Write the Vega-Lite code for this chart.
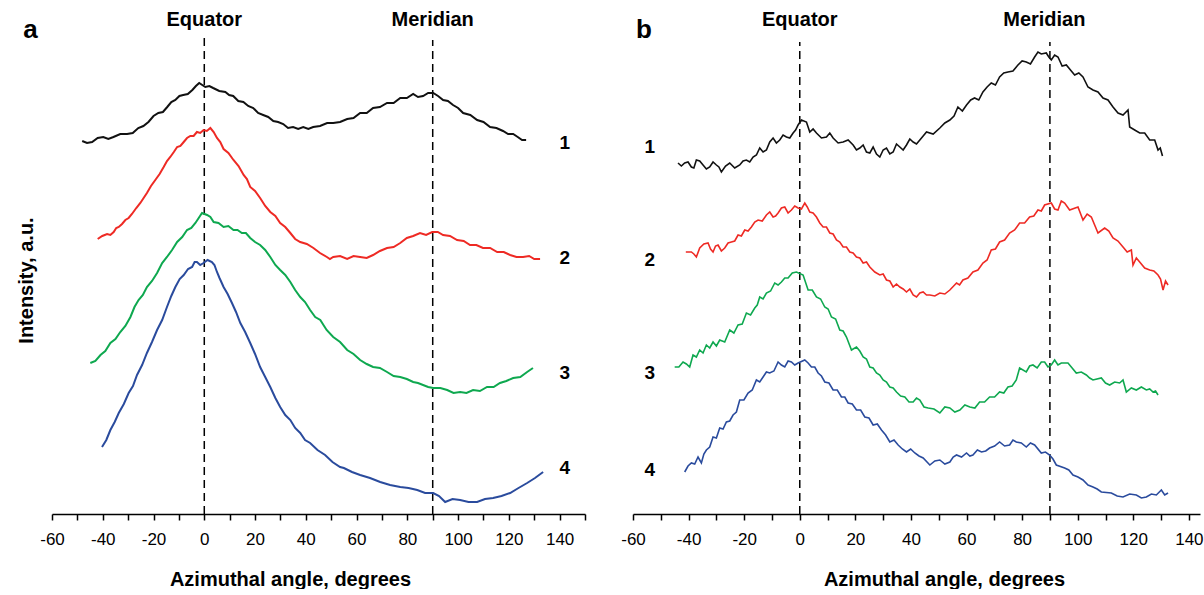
{
  "$schema": "https://vega.github.io/schema/vega-lite/v6.json",
  "padding": {"left": 16, "top": 5, "right": 0, "bottom": 0},
  "background": "white",
  "spacing": 48,
  "bounds": "flush",
  "config": {
    "view": {"stroke": null},
    "font": "Liberation Sans",
    "axisX": {"domainColor": "#000", "domainWidth": 1.6, "tickColor": "#000", "tickWidth": 1.5, "tickSize": 6, "labelFontSize": 17, "labelColor": "#000", "labelPadding": 11, "titleFontSize": 20, "titleFontWeight": "bold", "titleColor": "#000", "titlePadding": 22, "grid": false, "labelFlush": false, "labelOverlap": false},
    "text": {"font": "Liberation Sans", "fontWeight": "bold", "color": "#000"}
  },
  "datasets": {
    "a1": [{"angle":-48.1,"int":373},{"angle":-46.2,"int":371},{"angle":-44.2,"int":372},{"angle":-42,"int":376},{"angle":-39.8,"int":377},{"angle":-37.8,"int":375},{"angle":-35.8,"int":377},{"angle":-33.1,"int":380},{"angle":-30.4,"int":380},{"angle":-28.2,"int":381},{"angle":-26,"int":386},{"angle":-24,"int":388},{"angle":-22,"int":392},{"angle":-20,"int":398},{"angle":-18.1,"int":401},{"angle":-16.3,"int":402},{"angle":-14.6,"int":407},{"angle":-13,"int":412},{"angle":-11.4,"int":414},{"angle":-9.8,"int":418},{"angle":-8.3,"int":419},{"angle":-6.5,"int":420},{"angle":-4.7,"int":424},{"angle":-3.3,"int":428},{"angle":-2,"int":431},{"angle":-0.8,"int":429},{"angle":0.4,"int":427},{"angle":2,"int":428},{"angle":3.5,"int":426},{"angle":5.9,"int":423},{"angle":8.3,"int":422},{"angle":9.8,"int":419},{"angle":11.4,"int":418},{"angle":13.4,"int":413},{"angle":15.4,"int":412},{"angle":17.3,"int":408},{"angle":19.3,"int":406},{"angle":21.2,"int":401},{"angle":23.2,"int":399},{"angle":25.2,"int":397},{"angle":27.2,"int":393},{"angle":29.1,"int":392},{"angle":31.1,"int":390},{"angle":33,"int":386},{"angle":35,"int":387},{"angle":37,"int":385},{"angle":39,"int":387},{"angle":41,"int":385},{"angle":42.9,"int":387},{"angle":45.6,"int":388},{"angle":48.4,"int":391},{"angle":50.8,"int":391},{"angle":53.5,"int":392},{"angle":56.3,"int":395},{"angle":58.8,"int":396},{"angle":61.4,"int":401},{"angle":64,"int":401},{"angle":66.5,"int":406},{"angle":69.2,"int":407},{"angle":72,"int":411},{"angle":74.6,"int":411},{"angle":77.2,"int":416},{"angle":79.8,"int":416},{"angle":82.3,"int":420},{"angle":84.2,"int":417},{"angle":86.2,"int":418},{"angle":88.2,"int":421},{"angle":90.2,"int":421},{"angle":92.1,"int":418},{"angle":94.1,"int":414},{"angle":96,"int":413},{"angle":98,"int":409},{"angle":100,"int":406},{"angle":102,"int":401},{"angle":104.8,"int":399},{"angle":107.5,"int":394},{"angle":110,"int":392},{"angle":112.6,"int":387},{"angle":115.1,"int":386},{"angle":117.7,"int":383},{"angle":119.7,"int":380},{"angle":121.7,"int":380},{"angle":123.5,"int":377},{"angle":125.2,"int":374},{"angle":126.8,"int":374}],
    "a2": [{"angle":-42,"int":275},{"angle":-40.2,"int":278},{"angle":-38.3,"int":280},{"angle":-37,"int":279},{"angle":-35.7,"int":282},{"angle":-34.7,"int":286},{"angle":-33.7,"int":287},{"angle":-32.4,"int":290},{"angle":-31.1,"int":294},{"angle":-29.8,"int":296},{"angle":-28.5,"int":300},{"angle":-26.8,"int":306},{"angle":-25.2,"int":311},{"angle":-23.9,"int":316},{"angle":-22.6,"int":321},{"angle":-21,"int":328},{"angle":-19.3,"int":334},{"angle":-17.6,"int":340},{"angle":-16,"int":347},{"angle":-14.7,"int":353},{"angle":-13.4,"int":357},{"angle":-12,"int":362},{"angle":-10.7,"int":367},{"angle":-9.4,"int":368},{"angle":-8.1,"int":372},{"angle":-6.8,"int":376},{"angle":-5.5,"int":378},{"angle":-4.2,"int":378},{"angle":-2.9,"int":382},{"angle":-1.6,"int":381},{"angle":-0.3,"int":384},{"angle":1,"int":383},{"angle":2.4,"int":386},{"angle":3.7,"int":382},{"angle":5,"int":376},{"angle":6.3,"int":372},{"angle":7.6,"int":365},{"angle":9.5,"int":361},{"angle":11.5,"int":354},{"angle":13.5,"int":348},{"angle":15.5,"int":339},{"angle":16.8,"int":335},{"angle":18.1,"int":327},{"angle":20,"int":323},{"angle":22,"int":316},{"angle":24,"int":308},{"angle":26,"int":302},{"angle":28,"int":298},{"angle":29.9,"int":291},{"angle":31.9,"int":287},{"angle":33.9,"int":281},{"angle":35.8,"int":275},{"angle":37.8,"int":272},{"angle":40.4,"int":270},{"angle":43,"int":266},{"angle":45.6,"int":261},{"angle":48.3,"int":257},{"angle":49.5,"int":255},{"angle":50.8,"int":257},{"angle":53.5,"int":258},{"angle":56.3,"int":255},{"angle":58.8,"int":258},{"angle":61.4,"int":257},{"angle":64,"int":256},{"angle":66.5,"int":259},{"angle":69.2,"int":263},{"angle":72,"int":266},{"angle":74.6,"int":267},{"angle":77.2,"int":271},{"angle":79.8,"int":276},{"angle":82.3,"int":278},{"angle":85,"int":281},{"angle":87.4,"int":279},{"angle":89.8,"int":282},{"angle":92,"int":282},{"angle":94.1,"int":279},{"angle":96.8,"int":278},{"angle":99.6,"int":274},{"angle":102.2,"int":273},{"angle":104.7,"int":269},{"angle":107.2,"int":269},{"angle":109.8,"int":266},{"angle":112.6,"int":266},{"angle":115.4,"int":262},{"angle":118,"int":262},{"angle":120.5,"int":259},{"angle":123,"int":257},{"angle":125.6,"int":257},{"angle":128,"int":258},{"angle":130,"int":255},{"angle":132.3,"int":255}],
    "a3": [{"angle":-44.9,"int":151},{"angle":-42.9,"int":153},{"angle":-40.9,"int":159},{"angle":-39,"int":163},{"angle":-37,"int":171},{"angle":-35,"int":175},{"angle":-33.1,"int":182},{"angle":-31.1,"int":188},{"angle":-29.1,"int":197},{"angle":-27.5,"int":207},{"angle":-25.9,"int":214},{"angle":-24.2,"int":219},{"angle":-22.6,"int":227},{"angle":-20.6,"int":233},{"angle":-18.6,"int":241},{"angle":-16.6,"int":251},{"angle":-14.7,"int":257},{"angle":-12.7,"int":264},{"angle":-10.7,"int":272},{"angle":-8.7,"int":277},{"angle":-6.8,"int":284},{"angle":-5.1,"int":286},{"angle":-3.5,"int":291},{"angle":-2.2,"int":296},{"angle":-0.9,"int":301},{"angle":1.1,"int":299},{"angle":2.4,"int":297},{"angle":3.7,"int":292},{"angle":5.6,"int":291},{"angle":7.6,"int":287},{"angle":9.5,"int":288},{"angle":11.5,"int":284},{"angle":13.1,"int":284},{"angle":14.8,"int":281},{"angle":16.4,"int":281},{"angle":18.1,"int":276},{"angle":20,"int":272},{"angle":22,"int":269},{"angle":24,"int":264},{"angle":26,"int":257},{"angle":28,"int":249},{"angle":29.9,"int":244},{"angle":31.9,"int":239},{"angle":33.9,"int":232},{"angle":35.8,"int":224},{"angle":37.8,"int":217},{"angle":39.7,"int":212},{"angle":41.7,"int":204},{"angle":43.7,"int":197},{"angle":45.7,"int":194},{"angle":48.2,"int":184},{"angle":50.8,"int":177},{"angle":53.5,"int":172},{"angle":56.3,"int":164},{"angle":58.8,"int":160},{"angle":61.4,"int":154},{"angle":64,"int":150},{"angle":66.5,"int":147},{"angle":69.2,"int":146},{"angle":72,"int":142},{"angle":74.6,"int":138},{"angle":77.2,"int":137},{"angle":79.8,"int":135},{"angle":82.3,"int":132},{"angle":84.2,"int":131},{"angle":86.2,"int":129},{"angle":88.2,"int":127},{"angle":90.2,"int":126},{"angle":93,"int":126},{"angle":95.7,"int":124},{"angle":98.2,"int":121},{"angle":100.8,"int":122},{"angle":103.3,"int":121},{"angle":105.9,"int":124},{"angle":108.6,"int":123},{"angle":111.4,"int":127},{"angle":114,"int":127},{"angle":116.5,"int":131},{"angle":119,"int":133},{"angle":121.7,"int":136},{"angle":124.5,"int":137},{"angle":127.2,"int":142},{"angle":129.5,"int":146}],
    "a4": [{"angle":-40.3,"int":67},{"angle":-38.6,"int":74},{"angle":-37,"int":84},{"angle":-35.3,"int":92},{"angle":-33.7,"int":101},{"angle":-31.7,"int":110},{"angle":-29.8,"int":121},{"angle":-28.1,"int":128},{"angle":-26.5,"int":139},{"angle":-24.5,"int":149},{"angle":-22.6,"int":161},{"angle":-20.6,"int":172},{"angle":-18.6,"int":184},{"angle":-16.6,"int":194},{"angle":-14.7,"int":207},{"angle":-13,"int":218},{"angle":-11.4,"int":227},{"angle":-9.7,"int":235},{"angle":-8.1,"int":239},{"angle":-6.4,"int":245},{"angle":-4.8,"int":247},{"angle":-3.8,"int":252},{"angle":-2.9,"int":252},{"angle":-1.6,"int":249},{"angle":-0.3,"int":251},{"angle":1.3,"int":254},{"angle":3,"int":252},{"angle":4,"int":249},{"angle":5,"int":242},{"angle":6,"int":236},{"angle":7.6,"int":227},{"angle":9.2,"int":220},{"angle":10.9,"int":211},{"angle":12.5,"int":202},{"angle":14.2,"int":191},{"angle":16.1,"int":182},{"angle":18.1,"int":171},{"angle":20,"int":160},{"angle":22,"int":147},{"angle":24,"int":137},{"angle":26,"int":127},{"angle":28,"int":116},{"angle":29.9,"int":107},{"angle":31.9,"int":99},{"angle":33.9,"int":94},{"angle":35.8,"int":86},{"angle":37.8,"int":81},{"angle":39.7,"int":74},{"angle":41.7,"int":71},{"angle":44.6,"int":64},{"angle":47.6,"int":59},{"angle":50.5,"int":52},{"angle":53.5,"int":47},{"angle":55,"int":46},{"angle":58.2,"int":42},{"angle":61.4,"int":39},{"angle":65.3,"int":36},{"angle":69.3,"int":32},{"angle":73.2,"int":29},{"angle":77.2,"int":27},{"angle":80.5,"int":26},{"angle":83.9,"int":24},{"angle":87,"int":21},{"angle":90.2,"int":21},{"angle":92.5,"int":18},{"angle":94.9,"int":12},{"angle":97.8,"int":15},{"angle":100.8,"int":14},{"angle":104.1,"int":12},{"angle":107.5,"int":12},{"angle":110.6,"int":15},{"angle":113.8,"int":16},{"angle":117.1,"int":18},{"angle":120.5,"int":21},{"angle":123.8,"int":26},{"angle":127.2,"int":31},{"angle":130.3,"int":36},{"angle":133.5,"int":42}],
    "b1": [{"angle":-43.8,"int":351},{"angle":-42.6,"int":348},{"angle":-41.4,"int":351},{"angle":-40.2,"int":352},{"angle":-39,"int":347},{"angle":-38.1,"int":346},{"angle":-37.2,"int":354},{"angle":-36,"int":353},{"angle":-34.8,"int":349},{"angle":-33.6,"int":345},{"angle":-32.4,"int":347},{"angle":-31.2,"int":352},{"angle":-30,"int":349},{"angle":-29.1,"int":347},{"angle":-28.2,"int":342},{"angle":-26.7,"int":348},{"angle":-25.2,"int":351},{"angle":-23.4,"int":346},{"angle":-21.6,"int":349},{"angle":-20.4,"int":353},{"angle":-19.2,"int":354},{"angle":-18,"int":352},{"angle":-16.8,"int":357},{"angle":-15.6,"int":359},{"angle":-14.4,"int":366},{"angle":-13.2,"int":362},{"angle":-12,"int":364},{"angle":-10.8,"int":372},{"angle":-9.6,"int":376},{"angle":-8.4,"int":371},{"angle":-7.2,"int":374},{"angle":-6,"int":379},{"angle":-4.8,"int":377},{"angle":-3.6,"int":376},{"angle":-2.4,"int":381},{"angle":-1.5,"int":384},{"angle":-0.6,"int":389},{"angle":0.6,"int":394},{"angle":2.4,"int":392},{"angle":3,"int":387},{"angle":3.6,"int":382},{"angle":4.8,"int":385},{"angle":6,"int":381},{"angle":7.8,"int":376},{"angle":9.6,"int":377},{"angle":10.8,"int":381},{"angle":12,"int":376},{"angle":13.8,"int":371},{"angle":15.6,"int":372},{"angle":17.4,"int":374},{"angle":19.2,"int":369},{"angle":20.4,"int":364},{"angle":21.6,"int":366},{"angle":22.8,"int":369},{"angle":24,"int":362},{"angle":25.2,"int":361},{"angle":26.4,"int":367},{"angle":27.6,"int":360},{"angle":28.8,"int":357},{"angle":30,"int":364},{"angle":31.2,"int":366},{"angle":32.4,"int":360},{"angle":33.6,"int":362},{"angle":34.8,"int":370},{"angle":36,"int":367},{"angle":37.2,"int":364},{"angle":38.4,"int":369},{"angle":39.6,"int":375},{"angle":40.8,"int":372},{"angle":42,"int":370},{"angle":43.2,"int":374},{"angle":44.4,"int":378},{"angle":45.6,"int":382},{"angle":48,"int":380},{"angle":50.4,"int":386},{"angle":52.2,"int":391},{"angle":54,"int":394},{"angle":55.5,"int":398},{"angle":56.9,"int":407},{"angle":58.5,"int":403},{"angle":60,"int":409},{"angle":61.5,"int":414},{"angle":62.9,"int":416},{"angle":64.4,"int":414},{"angle":65.9,"int":422},{"angle":67.4,"int":427},{"angle":68.9,"int":431},{"angle":70.4,"int":429},{"angle":71.9,"int":437},{"angle":73.4,"int":441},{"angle":74.9,"int":442},{"angle":76.7,"int":443},{"angle":78.5,"int":449},{"angle":80,"int":453},{"angle":81.5,"int":452},{"angle":83,"int":450},{"angle":84.5,"int":457},{"angle":85.7,"int":462},{"angle":86.9,"int":460},{"angle":88.7,"int":461},{"angle":89.6,"int":457},{"angle":90.5,"int":454},{"angle":91.7,"int":459},{"angle":92.9,"int":457},{"angle":94.4,"int":448},{"angle":95.9,"int":449},{"angle":97.4,"int":444},{"angle":98.9,"int":439},{"angle":100.4,"int":441},{"angle":101.9,"int":437},{"angle":103.7,"int":427},{"angle":105.5,"int":424},{"angle":107.3,"int":422},{"angle":109.1,"int":416},{"angle":110.9,"int":414},{"angle":112.7,"int":407},{"angle":114.5,"int":401},{"angle":116.3,"int":399},{"angle":118.1,"int":404},{"angle":118.7,"int":387},{"angle":120.5,"int":384},{"angle":122.3,"int":381},{"angle":124.1,"int":381},{"angle":125.9,"int":374},{"angle":127.7,"int":374},{"angle":128.9,"int":364},{"angle":129.7,"int":366},{"angle":130.5,"int":358}],
    "b2": [{"angle":-41,"int":262},{"angle":-39,"int":262},{"angle":-38.1,"int":260},{"angle":-37.2,"int":257},{"angle":-36,"int":266},{"angle":-34.5,"int":270},{"angle":-33,"int":271},{"angle":-32.1,"int":265},{"angle":-31.2,"int":262},{"angle":-30.3,"int":268},{"angle":-29.4,"int":269},{"angle":-28.2,"int":263},{"angle":-27,"int":266},{"angle":-25.8,"int":271},{"angle":-24.6,"int":272},{"angle":-23.4,"int":273},{"angle":-22.2,"int":279},{"angle":-21,"int":278},{"angle":-19.8,"int":284},{"angle":-18.6,"int":283},{"angle":-17.4,"int":287},{"angle":-16.2,"int":292},{"angle":-15,"int":294},{"angle":-13.5,"int":293},{"angle":-12,"int":299},{"angle":-10.8,"int":302},{"angle":-9.6,"int":297},{"angle":-8.7,"int":298},{"angle":-7.8,"int":301},{"angle":-6.6,"int":306},{"angle":-5.4,"int":307},{"angle":-4.2,"int":301},{"angle":-3,"int":304},{"angle":-1.8,"int":308},{"angle":-0.6,"int":306},{"angle":0.6,"int":305},{"angle":1.8,"int":311},{"angle":2.7,"int":307},{"angle":3.6,"int":302},{"angle":4.8,"int":301},{"angle":6,"int":297},{"angle":7.2,"int":291},{"angle":8.4,"int":287},{"angle":9.6,"int":287},{"angle":10.8,"int":281},{"angle":12,"int":280},{"angle":13.2,"int":274},{"angle":14.4,"int":272},{"angle":15.6,"int":267},{"angle":16.8,"int":267},{"angle":18,"int":262},{"angle":19.2,"int":261},{"angle":20.4,"int":257},{"angle":21.6,"int":256},{"angle":22.8,"int":251},{"angle":24,"int":252},{"angle":25.2,"int":247},{"angle":27,"int":242},{"angle":28.8,"int":239},{"angle":30,"int":240},{"angle":31.2,"int":234},{"angle":32.4,"int":233},{"angle":33.6,"int":227},{"angle":34.8,"int":230},{"angle":36,"int":227},{"angle":37.2,"int":225},{"angle":38.4,"int":222},{"angle":39.6,"int":225},{"angle":40.8,"int":219},{"angle":42,"int":217},{"angle":43.2,"int":221},{"angle":44.4,"int":222},{"angle":45.6,"int":219},{"angle":46.8,"int":219},{"angle":48.6,"int":218},{"angle":50.4,"int":221},{"angle":52.2,"int":220},{"angle":54,"int":224},{"angle":56.4,"int":231},{"angle":57.5,"int":229},{"angle":58.7,"int":234},{"angle":60.5,"int":236},{"angle":62.3,"int":242},{"angle":64.1,"int":244},{"angle":65.9,"int":251},{"angle":67.4,"int":254},{"angle":68.9,"int":264},{"angle":70.4,"int":265},{"angle":71.9,"int":272},{"angle":73.7,"int":274},{"angle":75.5,"int":281},{"angle":77.3,"int":284},{"angle":79.1,"int":291},{"angle":80.9,"int":291},{"angle":82.7,"int":297},{"angle":84.2,"int":298},{"angle":85.7,"int":304},{"angle":86.9,"int":303},{"angle":88.1,"int":309},{"angle":90.5,"int":311},{"angle":91.7,"int":305},{"angle":92.9,"int":304},{"angle":94.1,"int":313},{"angle":95.3,"int":311},{"angle":97.1,"int":304},{"angle":100.1,"int":307},{"angle":101.9,"int":294},{"angle":103.4,"int":300},{"angle":104.9,"int":297},{"angle":107.3,"int":281},{"angle":109.7,"int":286},{"angle":111.2,"int":283},{"angle":112.7,"int":276},{"angle":114.5,"int":273},{"angle":116.3,"int":267},{"angle":117.8,"int":262},{"angle":119.3,"int":264},{"angle":119.9,"int":249},{"angle":121.1,"int":256},{"angle":122.3,"int":252},{"angle":124.1,"int":246},{"angle":125.9,"int":244},{"angle":127.4,"int":243},{"angle":128.9,"int":239},{"angle":129.8,"int":235},{"angle":130.7,"int":224},{"angle":131.6,"int":233},{"angle":132.5,"int":229}],
    "b3": [{"angle":-45,"int":147},{"angle":-43.5,"int":147},{"angle":-42,"int":152},{"angle":-40.8,"int":150},{"angle":-39.6,"int":147},{"angle":-38.4,"int":159},{"angle":-37.2,"int":157},{"angle":-36,"int":164},{"angle":-34.8,"int":161},{"angle":-33.6,"int":169},{"angle":-32.4,"int":166},{"angle":-31.2,"int":172},{"angle":-30,"int":168},{"angle":-28.8,"int":174},{"angle":-27,"int":172},{"angle":-25.2,"int":184},{"angle":-23.7,"int":181},{"angle":-22.2,"int":189},{"angle":-20.7,"int":190},{"angle":-19.2,"int":201},{"angle":-17.7,"int":199},{"angle":-16.2,"int":206},{"angle":-15.3,"int":209},{"angle":-14.4,"int":217},{"angle":-13.2,"int":215},{"angle":-12,"int":221},{"angle":-10.5,"int":223},{"angle":-9,"int":231},{"angle":-7.8,"int":229},{"angle":-6.6,"int":232},{"angle":-5.4,"int":236},{"angle":-4.2,"int":236},{"angle":-2.7,"int":241},{"angle":-1.2,"int":242},{"angle":1.2,"int":239},{"angle":3,"int":224},{"angle":4.5,"int":224},{"angle":6,"int":217},{"angle":7.5,"int":215},{"angle":9,"int":207},{"angle":10.2,"int":205},{"angle":11.4,"int":197},{"angle":12.9,"int":195},{"angle":14.4,"int":184},{"angle":15.6,"int":183},{"angle":16.8,"int":177},{"angle":18.6,"int":164},{"angle":20.4,"int":167},{"angle":21.6,"int":163},{"angle":22.8,"int":157},{"angle":24,"int":155},{"angle":25.2,"int":147},{"angle":26.4,"int":146},{"angle":27.6,"int":141},{"angle":28.8,"int":139},{"angle":30,"int":134},{"angle":31.2,"int":132},{"angle":32.4,"int":127},{"angle":33.6,"int":126},{"angle":34.8,"int":122},{"angle":36.3,"int":118},{"angle":37.8,"int":117},{"angle":39.3,"int":112},{"angle":40.8,"int":112},{"angle":42,"int":116},{"angle":43.2,"int":114},{"angle":44.7,"int":107},{"angle":46.2,"int":106},{"angle":48.3,"int":105},{"angle":50.4,"int":101},{"angle":52.2,"int":107},{"angle":54,"int":106},{"angle":55.8,"int":102},{"angle":57.6,"int":104},{"angle":59.4,"int":109},{"angle":61.2,"int":107},{"angle":63,"int":106},{"angle":64.7,"int":112},{"angle":66.5,"int":112},{"angle":68.3,"int":117},{"angle":70.1,"int":117},{"angle":71.9,"int":122},{"angle":73.4,"int":121},{"angle":74.9,"int":127},{"angle":76.4,"int":128},{"angle":77.9,"int":134},{"angle":79.1,"int":146},{"angle":81.5,"int":142},{"angle":82.7,"int":148},{"angle":83.9,"int":149},{"angle":85.4,"int":146},{"angle":86.9,"int":152},{"angle":88.1,"int":152},{"angle":89.3,"int":147},{"angle":90.5,"int":149},{"angle":91.7,"int":154},{"angle":92.9,"int":149},{"angle":94.1,"int":151},{"angle":96.5,"int":151},{"angle":98,"int":146},{"angle":99.5,"int":141},{"angle":101.3,"int":142},{"angle":103.1,"int":139},{"angle":104.3,"int":136},{"angle":105.5,"int":134},{"angle":108.5,"int":136},{"angle":110,"int":131},{"angle":111.5,"int":129},{"angle":113.3,"int":132},{"angle":115.1,"int":131},{"angle":116.3,"int":134},{"angle":117.5,"int":122},{"angle":119.3,"int":126},{"angle":121.1,"int":124},{"angle":122.9,"int":127},{"angle":124.7,"int":124},{"angle":125.9,"int":125},{"angle":127.1,"int":122},{"angle":128,"int":123},{"angle":128.9,"int":119}],
    "b4": [{"angle":-41.4,"int":42},{"angle":-40.2,"int":48},{"angle":-39,"int":51},{"angle":-37.8,"int":50},{"angle":-36.6,"int":57},{"angle":-35.4,"int":51},{"angle":-34.5,"int":60},{"angle":-33.6,"int":64},{"angle":-32.4,"int":67},{"angle":-31.2,"int":77},{"angle":-30,"int":76},{"angle":-28.8,"int":86},{"angle":-27.6,"int":85},{"angle":-26.4,"int":92},{"angle":-25.2,"int":93},{"angle":-24,"int":99},{"angle":-22.8,"int":102},{"angle":-21.6,"int":114},{"angle":-20.1,"int":114},{"angle":-18.6,"int":121},{"angle":-17.1,"int":124},{"angle":-15.6,"int":134},{"angle":-14.4,"int":132},{"angle":-13.2,"int":137},{"angle":-12,"int":142},{"angle":-10.8,"int":141},{"angle":-9.3,"int":143},{"angle":-7.8,"int":152},{"angle":-6.6,"int":149},{"angle":-5.4,"int":147},{"angle":-4.2,"int":153},{"angle":-3,"int":152},{"angle":-1.8,"int":149},{"angle":-0.6,"int":151},{"angle":1.8,"int":154},{"angle":3,"int":151},{"angle":4.2,"int":147},{"angle":5.4,"int":147},{"angle":6.6,"int":141},{"angle":7.8,"int":138},{"angle":9,"int":132},{"angle":10.5,"int":131},{"angle":12,"int":124},{"angle":13.5,"int":124},{"angle":15,"int":117},{"angle":16.2,"int":117},{"angle":17.4,"int":111},{"angle":18.9,"int":110},{"angle":20.4,"int":104},{"angle":21.9,"int":104},{"angle":23.4,"int":97},{"angle":24.9,"int":96},{"angle":26.4,"int":89},{"angle":27.9,"int":90},{"angle":29.4,"int":84},{"angle":30.9,"int":79},{"angle":32.4,"int":72},{"angle":33.9,"int":74},{"angle":35.4,"int":69},{"angle":36.9,"int":65},{"angle":38.4,"int":62},{"angle":39.9,"int":65},{"angle":41.4,"int":61},{"angle":42.9,"int":58},{"angle":44.4,"int":56},{"angle":46.8,"int":49},{"angle":48.6,"int":53},{"angle":50.4,"int":54},{"angle":52.2,"int":50},{"angle":54,"int":52},{"angle":55.2,"int":57},{"angle":56.4,"int":59},{"angle":58.2,"int":57},{"angle":60,"int":61},{"angle":61.2,"int":58},{"angle":62.3,"int":59},{"angle":63.9,"int":64},{"angle":65.4,"int":62},{"angle":66.9,"int":63},{"angle":68.3,"int":66},{"angle":70.1,"int":68},{"angle":71.9,"int":72},{"angle":73.7,"int":68},{"angle":75.5,"int":69},{"angle":76.7,"int":74},{"angle":77.9,"int":72},{"angle":79.7,"int":71},{"angle":81.5,"int":67},{"angle":83,"int":71},{"angle":84.5,"int":69},{"angle":86.9,"int":61},{"angle":88.4,"int":62},{"angle":89.9,"int":59},{"angle":91.1,"int":55},{"angle":92.3,"int":49},{"angle":95.3,"int":46},{"angle":96.8,"int":44},{"angle":98.3,"int":39},{"angle":100.1,"int":37},{"angle":101.9,"int":34},{"angle":103.7,"int":29},{"angle":105.5,"int":27},{"angle":107,"int":25},{"angle":108.5,"int":22},{"angle":112.1,"int":21},{"angle":114.2,"int":18},{"angle":116.3,"int":17},{"angle":118.7,"int":20},{"angle":121.1,"int":19},{"angle":122.9,"int":16},{"angle":124.7,"int":17},{"angle":126.5,"int":20},{"angle":128.3,"int":19},{"angle":130.1,"int":24},{"angle":131.3,"int":19},{"angle":132.5,"int":21}],
    "guidesA": [{"angle":0,"int":0,"top":477},{"angle":90,"int":0,"top":474}],
    "guidesB": [{"angle":0,"int":0,"top":472},{"angle":90,"int":0,"top":472}],
    "labelsA": [{"kind":"guide","text":"Equator","angle":0,"int":494},{"kind":"guide","text":"Meridian","angle":90,"int":494},{"kind":"letter","text":"a","angle":-68.5,"int":476},{"kind":"num","text":"1","angle":142,"int":371},{"kind":"num","text":"2","angle":142,"int":256},{"kind":"num","text":"3","angle":142,"int":141},{"kind":"num","text":"4","angle":142,"int":46}],
    "labelsB": [{"kind":"guide","text":"Equator","angle":0,"int":494},{"kind":"guide","text":"Meridian","angle":88,"int":494},{"kind":"letter","text":"b","angle":-56.1,"int":476},{"kind":"num","text":"1","angle":-54,"int":367},{"kind":"num","text":"2","angle":-54,"int":254},{"kind":"num","text":"3","angle":-54,"int":141},{"kind":"num","text":"4","angle":-54,"int":44}]
  },
  "hconcat": [
    {
      "width": 533,
      "height": 509,
      "encoding": {
        "x": {"field": "angle", "type": "quantitative", "scale": {"domain": [-60, 150], "nice": false, "zero": false},
              "axis": {"values": [-60,-50,-40,-30,-20,-10,0,10,20,30,40,50,60,70,80,90,100,110,120,130,140,150], "labelExpr": "datum.value % 20 === 0 ? '' + datum.value : ''", "title": "Azimuthal angle, degrees", "titleX": 238}},
        "y": {"field": "int", "type": "quantitative", "scale": {"domain": [0, 509], "nice": false, "zero": false},
              "axis": {"title": "Intensity, a.u.", "labels": false, "ticks": false, "domain": false, "grid": false, "titleFontSize": 20, "titleFontWeight": "bold", "titleColor": "#000", "titlePadding": 16, "titleY": 275}}
      },
      "layer": [
        {"data": {"name": "guidesA"}, "mark": {"type": "rule", "color": "#000", "strokeWidth": 1.5, "strokeDash": [8, 5]}, "encoding": {"y2": {"field": "top"}}},
        {"data": {"name": "a1"}, "mark": {"type": "line", "color": "#111111", "strokeWidth": 2}, "encoding": {}},
        {"data": {"name": "a2"}, "mark": {"type": "line", "color": "#ee2a24", "strokeWidth": 2}, "encoding": {}},
        {"data": {"name": "a3"}, "mark": {"type": "line", "color": "#0ea84f", "strokeWidth": 2}, "encoding": {}},
        {"data": {"name": "a4"}, "mark": {"type": "line", "color": "#2a4b9d", "strokeWidth": 2}, "encoding": {}},
        {"data": {"name": "labelsA"}, "transform": [{"filter": "datum.kind === 'guide'"}], "mark": {"type": "text", "fontSize": 20, "baseline": "middle"}, "encoding": {"text": {"field": "text"}}},
        {"data": {"name": "labelsA"}, "transform": [{"filter": "datum.kind === 'letter'"}], "mark": {"type": "text", "fontSize": 26, "baseline": "alphabetic"}, "encoding": {"text": {"field": "text"}}},
        {"data": {"name": "labelsA"}, "transform": [{"filter": "datum.kind === 'num'"}], "mark": {"type": "text", "fontSize": 19, "baseline": "middle"}, "encoding": {"text": {"field": "text"}}}
      ]
    },
    {
      "width": 567,
      "height": 509,
      "encoding": {
        "x": {"field": "angle", "type": "quantitative", "scale": {"domain": [-60, 144], "nice": false, "zero": false},
              "axis": {"values": [-60,-50,-40,-30,-20,-10,0,10,20,30,40,50,60,70,80,90,100,110,120,130,140], "labelExpr": "datum.value % 20 === 0 ? '' + datum.value : ''", "title": "Azimuthal angle, degrees", "titleX": 311}},
        "y": {"field": "int", "type": "quantitative", "scale": {"domain": [0, 509], "nice": false, "zero": false}, "axis": null}
      },
      "layer": [
        {"data": {"name": "guidesB"}, "mark": {"type": "rule", "color": "#000", "strokeWidth": 1.5, "strokeDash": [8, 5]}, "encoding": {"y2": {"field": "top"}}},
        {"data": {"name": "b1"}, "mark": {"type": "line", "color": "#111111", "strokeWidth": 1.6}, "encoding": {}},
        {"data": {"name": "b2"}, "mark": {"type": "line", "color": "#ee2a24", "strokeWidth": 1.6}, "encoding": {}},
        {"data": {"name": "b3"}, "mark": {"type": "line", "color": "#0ea84f", "strokeWidth": 1.6}, "encoding": {}},
        {"data": {"name": "b4"}, "mark": {"type": "line", "color": "#2a4b9d", "strokeWidth": 1.6}, "encoding": {}},
        {"data": {"name": "labelsB"}, "transform": [{"filter": "datum.kind === 'guide'"}], "mark": {"type": "text", "fontSize": 20, "baseline": "middle"}, "encoding": {"text": {"field": "text"}}},
        {"data": {"name": "labelsB"}, "transform": [{"filter": "datum.kind === 'letter'"}], "mark": {"type": "text", "fontSize": 26, "baseline": "alphabetic"}, "encoding": {"text": {"field": "text"}}},
        {"data": {"name": "labelsB"}, "transform": [{"filter": "datum.kind === 'num'"}], "mark": {"type": "text", "fontSize": 19, "baseline": "middle"}, "encoding": {"text": {"field": "text"}}}
      ]
    }
  ]
}
